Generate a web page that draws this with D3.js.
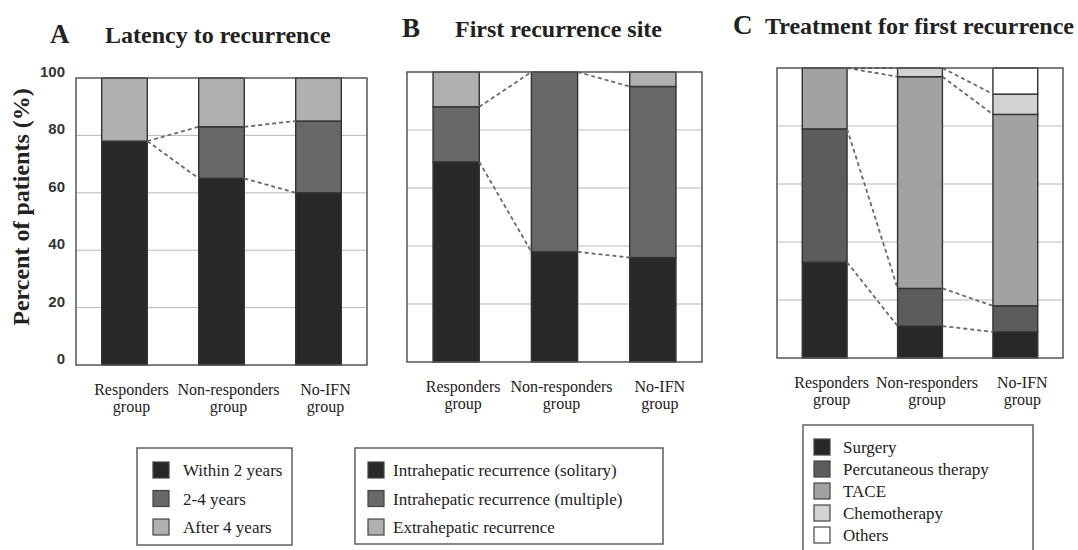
<!DOCTYPE html>
<html>
<head>
<meta charset="utf-8">
<script src="https://cdn.jsdelivr.net/npm/d3@7"></script>
<style>
body { margin: 0; background: #fff; }
text { fill: #222; }
</style>
</head>
<body>
<script>
// group labels (second line "group" under each)
var groups = ["Responders", "Non-responders", "No-IFN"];
var yTicks = [0, 20, 40, 60, 80, 100];

// A  latency to recurrence (%)
var latencyNames = ["Within 2 years", "2-4 years", "After 4 years"];
var latencyWithin2 = [78, 65, 60];
var latency2to4 = [0, 18, 25];
var latencyAfter4 = [22, 17, 15];

// B  first recurrence site (%)
var siteNames = ["Intrahepatic recurrence (solitary)", "Intrahepatic recurrence (multiple)", "Extrahepatic recurrence"];
var siteSolitary = [69, 38, 36];
var siteMultiple = [19, 62, 59];
var siteExtra = [12, 0, 5];

// C  treatment for first recurrence (%)
var treatNames = ["Surgery", "Percutaneous therapy", "TACE", "Chemotherapy", "Others"];
var treatSurgery = [33, 11, 9];
var treatPercutaneous = [46, 13, 9];
var treatTACE = [21, 73, 66];
var treatChemo = [0, 3, 7];
var treatOthers = [0, 0, 9];

var W = 1078, H = 550;
var svg = d3.select("body").append("svg")
    .attr("width", W)
    .attr("height", H)
    .style("font-family", "'Liberation Serif', 'Times New Roman', serif");

var panels = [
  { letter: "A", title: "Latency to recurrence", lx: 50, tx: 105, ty: 43,
    box: [76, 367, 78, 365],
    names: latencyNames, series: [latencyWithin2, latency2to4, latencyAfter4],
    colors: ["#282828", "#686868", "#b0b0b0"],
    legend: { x: 137, y: 448, w: 155, h: 97, sx: 16, tx: 46, row0: 470, step: 28.5 },
    axis: true },
  { letter: "B", title: "First recurrence site", lx: 402, tx: 455, ty: 37,
    box: [407, 702, 72, 362],
    names: siteNames, series: [siteSolitary, siteMultiple, siteExtra],
    colors: ["#282828", "#686868", "#b0b0b0"],
    legend: { x: 355, y: 448, w: 308, h: 96, sx: 13, tx: 38, row0: 470, step: 28.5 } },
  { letter: "C", title: "Treatment for first recurrence", lx: 733, tx: 765, ty: 34,
    box: [777, 1063, 68, 358],
    names: treatNames, series: [treatSurgery, treatPercutaneous, treatTACE, treatChemo, treatOthers],
    colors: ["#282828", "#5c5c5c", "#a2a2a2", "#d2d2d2", "#ffffff"],
    legend: { x: 803, y: 425, w: 230, h: 140, sx: 11, tx: 40, row0: 447, step: 22 } }
];

panels.forEach(function(p) {
  var g = svg.append("g");
  var x0 = p.box[0], x1 = p.box[1], yTop = p.box[2], yBot = p.box[3];

  var x = d3.scaleBand().domain(groups).range([x0, x1])
      .paddingInner(0.53).paddingOuter(0.265);
  var y = d3.scaleLinear().domain([0, 100]).range([yBot, yTop]);

  // titles
  g.append("text").attr("x", p.lx).attr("y", p.ty)
      .style("font-size", "27px").style("font-weight", "bold").text(p.letter);
  g.append("text").attr("x", p.tx).attr("y", p.ty)
      .style("font-size", "24px").style("font-weight", "bold").text(p.title);

  // gridlines
  g.selectAll("line.grid").data(yTicks.slice(1, -1)).enter().append("line")
      .attr("class", "grid")
      .attr("x1", x0).attr("x2", x1)
      .attr("y1", function(d) { return y(d); })
      .attr("y2", function(d) { return y(d); })
      .attr("stroke", "#b8b8b8").attr("stroke-width", 1);

  // stacked bars
  var keys = p.names.map(function(d, k) { return k; });
  var rows = groups.map(function(gr, i) {
    var r = { group: gr };
    p.series.forEach(function(s, k) { r[k] = s[i]; });
    return r;
  });
  var stacked = d3.stack().keys(keys)(rows);

  g.selectAll("g.layer").data(stacked).enter().append("g")
      .attr("class", "layer")
      .attr("fill", function(d) { return p.colors[d.key]; })
    .selectAll("rect").data(function(d) { return d; }).enter().append("rect")
      .attr("x", function(d) { return x(d.data.group); })
      .attr("width", x.bandwidth())
      .attr("y", function(d) { return y(d[1]); })
      .attr("height", function(d) { return y(d[0]) - y(d[1]); })
      .attr("stroke", "#333").attr("stroke-width", 1.4);

  // dashed connectors between cumulative boundaries
  stacked.slice(0, -1).forEach(function(layer) {
    for (var i = 0; i < groups.length - 1; i++) {
      g.append("line")
          .attr("x1", x(groups[i]) + x.bandwidth())
          .attr("y1", y(layer[i][1]))
          .attr("x2", x(groups[i + 1]))
          .attr("y2", y(layer[i + 1][1]))
          .attr("stroke", "#6a6a6a").attr("stroke-width", 1.8)
          .attr("stroke-dasharray", "4,3");
    }
  });

  // frame
  g.append("rect").attr("x", x0).attr("y", yTop)
      .attr("width", x1 - x0).attr("height", yBot - yTop)
      .attr("fill", "none").attr("stroke", "#555").attr("stroke-width", 1.5);

  // category labels, two separate lines
  function labelX(d) { return x(d) + x.bandwidth() / 2 + 7; }
  g.selectAll("text.cat").data(groups).enter().append("text")
      .attr("class", "cat")
      .attr("text-anchor", "middle")
      .attr("x", labelX).attr("y", yBot + 30)
      .style("font-size", "16px")
      .text(function(d) { return d; });
  g.selectAll("text.cat2").data(groups).enter().append("text")
      .attr("class", "cat2")
      .attr("text-anchor", "middle")
      .attr("x", labelX).attr("y", yBot + 47)
      .style("font-size", "16px")
      .text("group");

  // y axis (only on first panel)
  if (p.axis) {
    var ax = g.append("g").attr("transform", "translate(" + (x0 - 9) + ",0)")
        .call(d3.axisLeft(y).tickValues(yTicks).tickSize(0).tickPadding(2));
    ax.select(".domain").remove();
    ax.selectAll("text")
        .attr("dy", "-0.1em")
        .style("font-family", "'Liberation Sans', Arial, sans-serif")
        .style("font-weight", "bold")
        .style("font-size", "15px")
        .style("fill", "#333");
    g.append("text")
        .attr("transform", "translate(29,207) rotate(-90)")
        .attr("text-anchor", "middle")
        .style("font-size", "24px").style("font-weight", "bold")
        .text("Percent of patients (%)");
  }

  // legend
  var L = p.legend;
  var lg = g.append("g");
  lg.append("rect").attr("x", L.x).attr("y", L.y).attr("width", L.w).attr("height", L.h)
      .attr("fill", "#fff").attr("stroke", "#555").attr("stroke-width", 1.4);
  var item = lg.selectAll("g.item").data(p.names).enter().append("g")
      .attr("class", "item")
      .attr("transform", function(d, k) { return "translate(0," + (L.row0 + k * L.step) + ")"; });
  item.append("rect")
      .attr("x", L.x + L.sx).attr("y", -8).attr("width", 16).attr("height", 16)
      .attr("fill", function(d, k) { return p.colors[k]; })
      .attr("stroke", "#444").attr("stroke-width", 1.2);
  item.append("text")
      .attr("x", L.x + L.tx).attr("y", 6)
      .style("font-size", "17px")
      .text(function(d) { return d; });
});
</script>
</body>
</html>
